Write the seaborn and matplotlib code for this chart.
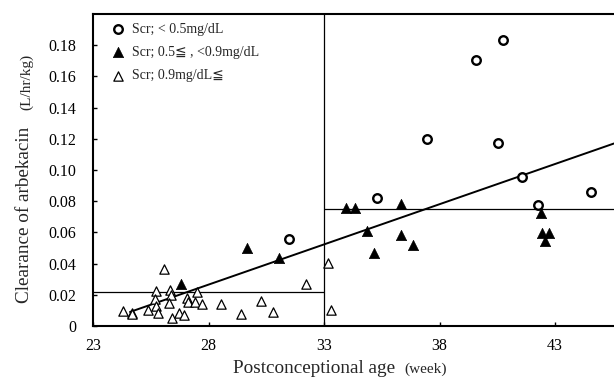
import numpy as np
import pandas as pd
import matplotlib
matplotlib.use("Agg")
import matplotlib.pyplot as plt
import seaborn as sns

# ---------------- data ----------------
low_age = [40.73, 39.58, 37.45, 40.54, 41.55, 44.54, 35.30, 42.24, 31.49]
low_cl = [0.1832, 0.1708, 0.1196, 0.1170, 0.0957, 0.0856, 0.0818, 0.0775, 0.0559]

mid_age = [29.65, 31.06, 26.79, 33.94, 34.34, 36.33, 34.85, 36.31, 35.17, 36.87,
           42.41, 42.45, 42.75, 42.55]
mid_cl = [0.0502, 0.0433, 0.0267, 0.0754, 0.0754, 0.0782, 0.0610, 0.0583, 0.0466, 0.0517,
          0.0726, 0.0598, 0.0598, 0.0545]

high_age = [24.31, 24.67, 24.69, 25.38, 25.72, 25.70, 25.74, 25.83, 26.07, 26.35,
            26.39, 26.28, 26.42, 26.71, 26.92, 27.09, 27.12, 27.40, 27.50, 27.70,
            28.55, 29.41, 30.28, 30.79, 32.21, 33.19, 33.32]
high_cl = [0.0098, 0.0085, 0.0077, 0.0102, 0.0222, 0.0173, 0.0128, 0.0085, 0.0363, 0.0231,
           0.0199, 0.0149, 0.0049, 0.0085, 0.0070, 0.0181, 0.0156, 0.0152, 0.0220, 0.0139,
           0.0141, 0.0077, 0.0160, 0.0090, 0.0271, 0.0406, 0.0102]

trend_age = [24.6, 45.55]
trend_cl = [0.0090, 0.1170]

cutoff_age = 33
mean_before = 0.022
mean_after = 0.075

x_ticks = [23, 28, 33, 38, 43]
y_ticks = [0, 0.02, 0.04, 0.06, 0.08, 0.10, 0.12, 0.14, 0.16, 0.18]
y_tick_labels = ["0", "0.02", "0.04", "0.06", "0.08", "0.10", "0.12", "0.14", "0.16", "0.18"]

labels = ["Scr; < 0.5mg/dL", "Scr; 0.5\u2266 , <0.9mg/dL", "Scr; 0.9mg/dL\u2266"]

# ---------------- plot ----------------
sns.set_theme(style="ticks")
plt.rcParams["font.family"] = ["Liberation Serif", "DejaVu Sans", "Noto Sans CJK JP"]

W, H = 614, 380
fig = plt.figure(figsize=(W / 100, H / 100), dpi=100)
ax = fig.add_axes([93 / W, 1 - 326 / H, 1 - 93 / W, (326 - 14) / H])

sns.scatterplot(x=low_age, y=low_cl, marker="o", s=38, facecolor="white",
                edgecolor="black", linewidth=1.7, ax=ax, label=labels[0], zorder=4)
sns.scatterplot(x=mid_age, y=mid_cl, marker="^", s=55, color="black",
                edgecolor="black", linewidth=0.5, ax=ax, label=labels[1], zorder=4)
sns.scatterplot(x=high_age, y=high_cl, marker="^", s=45, facecolor="white",
                edgecolor="black", linewidth=0.9, ax=ax, label=labels[2], zorder=4)

sns.lineplot(x=trend_age, y=trend_cl, color="black", linewidth=1.4, ax=ax, zorder=3)
ax.axvline(cutoff_age, color="black", linewidth=0.9, zorder=2)
ax.hlines(mean_before, x_ticks[0], cutoff_age, color="black", linewidth=0.9, zorder=2)
ax.hlines(mean_after, cutoff_age, 45.55, color="black", linewidth=0.9, zorder=2)

ax.set_xlim(23, 45.55)
ax.set_ylim(0, 0.2)
ax.set_xticks(x_ticks)
ax.set_yticks(y_ticks)
ax.set_yticklabels(y_tick_labels)
ax.tick_params(direction="in", length=3, width=1, labelsize=11.5, colors="black")
ax.tick_params(axis="y", pad=12)
ax.tick_params(axis="x", pad=9)
for s in ["left", "bottom", "top"]:
    ax.spines[s].set_linewidth(1.5)
    ax.spines[s].set_color("black")
ax.spines["right"].set_visible(False)

leg = ax.legend(loc="upper left", bbox_to_anchor=(104 / W, 1 - 17 / H),
                bbox_transform=fig.transFigure, frameon=False, fontsize=10,
                handletextpad=0.45, labelspacing=0.75, borderaxespad=0,
                handlelength=1.2)

# axis labels
fig.text(233 / W, 1 - 373 / H, "Postconceptional age", fontsize=13.8,
         ha="left", va="baseline")
fig.text(404 / W, 1 - 373 / H, "(week)", fontsize=11, ha="left", va="baseline")
fig.text(29 / W, 1 - 303 / H, "Clearance of arbekacin", fontsize=13.8,
         rotation=90, ha="left", va="baseline", rotation_mode="anchor")
fig.text(30 / W, 1 - 110 / H, "(L/hr/kg)", fontsize=11,
         rotation=90, ha="left", va="baseline", rotation_mode="anchor")

fig.savefig("out.png", dpi=100)
